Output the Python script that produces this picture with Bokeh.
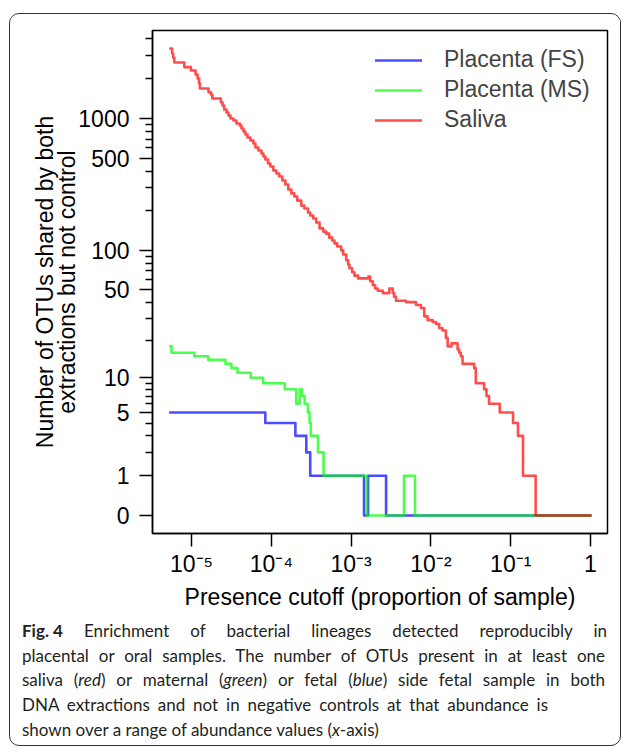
import numpy as np
from bokeh.plotting import figure
from bokeh.models import (Range1d, FixedTicker, CustomJSTickFormatter, Legend,
                          LegendItem, Div, ColumnDataSource)
from bokeh.layouts import column
from bokeh.embed import file_html
from bokeh.resources import INLINE

# ---------------- data (presence cutoff where the count changes; count holds until next cutoff)
fs_x = [5.4e-6, 8.4e-5, 2.0e-4, 2.74e-4, 3.07e-4, 1.45e-3, 1.63e-3, 2.74e-3, 1.0]
fs_y = [5, 4, 3, 2, 1, 0, 1, 0, 0]

ms_x = [5.4e-6, 5.6e-6, 1.08e-5, 1.62e-5, 2.66e-5, 3.16e-5, 3.76e-5, 5.51e-5, 7.87e-5,
        1.47e-4, 2.05e-4, 2.26e-4, 2.42e-4, 2.61e-4, 2.87e-4, 3.01e-4, 3.12e-4, 3.84e-4,
        4.51e-4, 1.58e-3, 4.6e-3, 6.31e-3, 1.0]
ms_y = [18, 16, 15, 14, 13, 12, 11, 10, 9, 8, 6, 8, 7, 6, 5, 4, 3, 2, 1, 0, 1, 0, 0]

sal_x = [5.4e-6, 5.70e-6, 5.87e-6, 6.08e-6, 8.11e-6, 9.80e-6, 1.122e-5, 1.189e-5, 1.241e-5,
         1.27e-5, 1.631e-5, 1.753e-5, 1.815e-5, 2.325e-5, 2.44e-5, 2.56e-5, 2.74e-5, 2.90e-5,
         3.07e-5, 3.35e-5, 3.65e-5, 4.02e-5, 4.22e-5, 4.47e-5, 4.73e-5, 5.01e-5, 5.46e-5,
         5.96e-5, 6.31e-5, 6.88e-5, 7.50e-5, 7.94e-5, 8.41e-5, 9.09e-5, 9.72e-5, 1.059e-4,
         1.155e-4, 1.259e-4, 1.372e-4, 1.496e-4, 1.631e-4, 1.778e-4, 1.938e-4, 2.11e-4,
         2.37e-4, 2.59e-4, 2.88e-4, 3.07e-4, 3.35e-4, 3.65e-4, 4.02e-4, 4.47e-4, 4.87e-4,
         5.31e-4, 5.79e-4, 6.18e-4, 6.68e-4, 7.50e-4, 7.94e-4, 8.66e-4, 9.17e-4, 9.53e-4,
         1.029e-3, 1.10e-3, 1.223e-3, 1.644e-3, 1.73e-3, 1.867e-3, 2.0e-3, 2.158e-3, 2.49e-3,
         3.01e-3, 3.32e-3, 3.45e-3, 3.65e-3, 4.87e-3, 6.49e-3, 7.50e-3, 8.25e-3, 9.09e-3,
         1.05e-2, 1.155e-2, 1.27e-2, 1.40e-2, 1.54e-2, 1.62e-2, 1.81e-2, 2.16e-2, 2.26e-2,
         2.37e-2, 2.49e-2, 3.48e-2, 3.65e-2, 4.64e-2, 4.97e-2, 5.35e-2, 7.29e-2, 0.1069,
         0.1234, 0.1425, 0.2053, 1.0]
sal_y = [3390, 3105, 2897, 2655, 2447, 2310, 2154, 2010, 1841,
         1688, 1583, 1520, 1419, 1330, 1256, 1171, 1111, 1055,
         1001, 966, 917, 886, 841, 798, 758, 719, 682,
         647, 604, 573, 544, 516, 490, 457, 434, 404,
         384, 364, 340, 317, 290, 271, 257, 239,
         219, 208, 194, 184, 175, 163, 147, 139, 134,
         125, 119, 113, 107, 100, 93, 84, 78, 73,
         68, 64, 61, 63, 58, 54, 51, 49, 47,
         51, 47, 44, 41, 40, 38, 36, 31, 29,
         28, 27, 25, 24, 21, 18, 19, 17, 16,
         15, 13, 12, 9, 8, 7, 6, 5, 4,
         3, 1, 0, 0]

series_names = ["Placenta (FS)", "Placenta (MS)", "Saliva"]
series_colors = ["#0000FF", "#00FF00", "#FF0000"]

y_major = [0, 1, 5, 10, 50, 100, 500, 1000]
y_minor = [2, 3, 4, 6, 7, 8, 9, 20, 30, 40, 60, 70, 80, 90,
           200, 300, 400, 600, 700, 800, 900, 2000, 3000, 4000]
x_major = [1e-5, 1e-4, 1e-3, 1e-2, 1e-1, 1.0]

caption_lines = [
    '<span style="display:inline-block;text-align-last:auto;"><b>Fig. 4</b></span> '
    'Enrichment of bacterial lineages detected reproducibly in',
    'placental or oral samples. The number of OTUs present in at least one',
    'saliva (<i>red</i>) or maternal (<i>green</i>) or fetal (<i>blue</i>) side fetal sample in both',
    'DNA extractions and not in negative controls at that abundance is',
    'shown over a range of abundance values (<i>x</i>-axis)',
]

# ---------------- figure
FONT = "Liberation Sans"

def tr(v):
    return list(np.log10(np.asarray(v, dtype=float) + 1.0))

p = figure(width=610, height=598, x_axis_type="log",
           x_range=Range1d(10 ** -5.49, 10 ** 0.213), y_range=Range1d(-0.136, 3.666),
           output_backend="svg", toolbar_location=None,
           min_border_left=142, min_border_right=13, min_border_top=16, min_border_bottom=79)
p.background_fill_color = "white"
p.border_fill_color = "white"
p.outline_line_color = "black"
p.outline_line_width = 1.5
p.xgrid.visible = False
p.ygrid.visible = False

renderers = []
for xs, ys, col in [(fs_x, fs_y, series_colors[0]), (ms_x, ms_y, series_colors[1]),
                    (sal_x, sal_y, series_colors[2])]:
    src = ColumnDataSource(dict(x=xs, y=tr(ys)))
    r = p.step("x", "y", source=src, mode="after", line_color=col, line_alpha=0.7,
               line_width=2.6, line_join="round", line_cap="round")
    renderers.append(r)

# y axis (log(y+1) scale)
ya = p.yaxis[0]
ya.ticker = FixedTicker(ticks=tr(y_major), minor_ticks=tr(y_minor))
ya.formatter = CustomJSTickFormatter(code="return String(Math.round(Math.pow(10, tick) - 1));")
ya.axis_label = "Number of OTUs shared by both\nextractions but not control"

xa = p.xaxis[0]
xa.ticker = FixedTicker(ticks=x_major, minor_ticks=[])
xa.formatter = CustomJSTickFormatter(code="""
const e = Math.round(Math.log10(tick));
if (e === 0) { return "1"; }
const sup = {"-": "\u207B", "0": "\u2070", "1": "\u00B9", "2": "\u00B2", "3": "\u00B3",
             "4": "\u2074", "5": "\u2075", "6": "\u2076", "7": "\u2077", "8": "\u2078", "9": "\u2079"};
return "10" + String(e).split("").map(c => sup[c]).join("");
""")
xa.axis_label = "Presence cutoff (proportion of sample)"

for ax in (xa, ya):
    ax.axis_line_color = "black"
    ax.axis_line_width = 1.5
    ax.major_tick_line_color = "black"
    ax.major_tick_line_width = 1.5
    ax.minor_tick_line_color = "black"
    ax.minor_tick_line_width = 1.5
    ax.major_tick_in = 0
    ax.major_tick_out = 13
    ax.minor_tick_in = 0
    ax.minor_tick_out = 7
    ax.major_label_text_font = FONT
    ax.major_label_text_font_size = "23px"
    ax.major_label_text_color = "black"
    ax.axis_label_text_font = FONT
    ax.axis_label_text_font_size = "23px"
    ax.axis_label_text_font_style = "normal"
    ax.axis_label_text_color = "black"

ya.major_label_standoff = 10
ya.axis_label_standoff = -5
ya.axis_label_text_line_height = 0.85
xa.major_label_standoff = 4
xa.axis_label_standoff = 4

legend = Legend(items=[LegendItem(label=n, renderers=[r]) for n, r in zip(series_names, renderers)],
                location=(223, 400), orientation="vertical")
legend.border_line_color = None
legend.background_fill_alpha = 0
legend.label_text_font = FONT
legend.label_text_font_size = "23px"
legend.glyph_width = 47
legend.glyph_height = 26
legend.label_height = 26
legend.label_standoff = 22
legend.spacing = 3
legend.padding = 0
legend.margin = 0
p.add_layout(legend)

# ---------------- caption
widths = [585, 583, 583, 526, None]
parts = []
for line, w in zip(caption_lines, widths):
    if w is None:
        parts.append(f'<div style="white-space:nowrap;">{line}</div>')
    else:
        parts.append(f'<div style="width:{w}px;text-align:justify;text-align-last:justify;">{line}</div>')
cap_html = ('<div style="padding:7px 0 0 12px;font-family:\'Lato\',sans-serif;font-size:17px;'
            'line-height:24.7px;color:#231f20;">' + "".join(parts) + '</div>')
cap = Div(text=cap_html, width=610, height=133, margin=(0, 0, 0, 0))

layout = column(p, cap, spacing=0,
                styles={"border": "1.5px solid #333333", "border-radius": "10px",
                        "margin": "13px 0 0 9px", "overflow": "hidden"})

open("out.html", "w").write(file_html(layout, INLINE))
